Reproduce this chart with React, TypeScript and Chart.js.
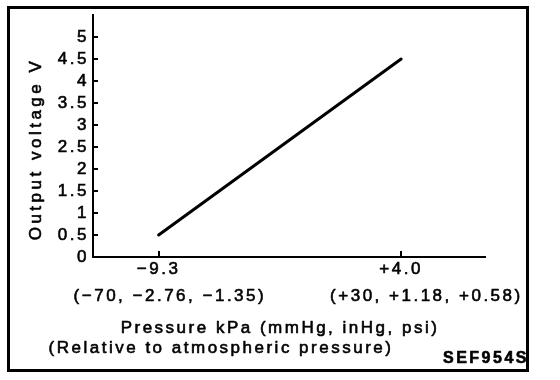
import React, { useEffect, useRef } from "react";
import { Chart, registerables } from "chart.js";

Chart.register(...registerables);

// ---- data ----
const pressureKpa = [-9.3, 4.0];
const outputVoltage = [0.5, 4.5];
const xTickValues = [-9.3, 4.0];
const xTickLabels = ["\u22129.3", "+4.0"];
const xSubLabels = ["(\u221270, \u22122.76, \u22121.35)", "(+30, +1.18, +0.58)"];
const xSubOffsets = [10, 24];
const yTickMax = 5;
const xTitleLines = ["Pressure kPa (mmHg, inHg, psi)", "(Relative to atmospheric pressure)"];
const yTitle = "Output voltage V";
const figureCode = "SEF954S";

const FONT = "'Liberation Sans', Arial, Helvetica, sans-serif";
const SPACING = "2.5px";
const STROKE = 0.6;

export default function App() {
  const ref = useRef<HTMLCanvasElement>(null);

  useEffect(() => {
    document.body.style.margin = "0";
    const canvas = ref.current;
    if (!canvas) return;

    const text = (ctx: CanvasRenderingContext2D, s: string, x: number, y: number) => {
      ctx.fillText(s, x, y);
      ctx.strokeText(s, x, y);
    };

    const deco = {
      id: "deco",
      beforeDraw(chart: any) {
        chart.ctx.letterSpacing = SPACING;
      },
      afterDraw(chart: any) {
        const ctx = chart.ctx as CanvasRenderingContext2D;
        const xs = chart.scales.x;
        const ys = chart.scales.y;
        ctx.save();
        (ctx as any).letterSpacing = SPACING;
        ctx.strokeStyle = "#000";
        ctx.fillStyle = "#000";

        // inward tick marks
        ctx.lineWidth = 2;
        ctx.beginPath();
        ys.ticks.forEach((t: any) => {
          if (t.value === 0) return;
          const y = Math.round(ys.getPixelForValue(t.value));
          ctx.moveTo(xs.left, y);
          ctx.lineTo(xs.left + 5, y);
        });
        xs.ticks.forEach((t: any) => {
          const x = Math.round(xs.getPixelForValue(t.value));
          ctx.moveTo(x, ys.bottom);
          ctx.lineTo(x, ys.bottom - 6);
        });
        ctx.stroke();

        // frame
        ctx.lineWidth = 3;
        ctx.strokeRect(8.5, 7.5, 519, 363);

        ctx.lineWidth = STROKE;
        ctx.lineJoin = "round";
        // second line of x tick labels
        ctx.font = `17px ${FONT}`;
        ctx.textAlign = "center";
        ctx.textBaseline = "alphabetic";
        xs.ticks.forEach((t: any, i: number) => {
          const x = xs.getPixelForValue(t.value) + xSubOffsets[i] + 1.25;
          text(ctx, xSubLabels[i], x, 301);
        });

        // x title lines
        text(ctx, xTitleLines[0], 280, 333);
        text(ctx, xTitleLines[1], 221, 353);

        // y title
        ctx.save();
        (ctx as any).letterSpacing = "3.5px";
        ctx.translate(36, 149);
        ctx.rotate(-Math.PI / 2);
        ctx.textBaseline = "middle";
        text(ctx, yTitle, 0, 0);
        ctx.restore();

        // figure code
        ctx.font = `bold 16px ${FONT}`;
        ctx.textAlign = "left";
        text(ctx, figureCode, 443, 363);

        ctx.restore();
      },
    };

    const tickFont = { family: FONT, size: 17 };

    const chart = new Chart(canvas, {
      type: "scatter",
      data: {
        datasets: [
          {
            data: pressureKpa.map((x, i) => ({ x, y: outputVoltage[i] })),
            showLine: true,
            borderColor: "#000",
            borderWidth: 3,
            pointRadius: 0,
            borderCapStyle: "round",
          },
        ],
      },
      options: {
        responsive: false,
        animation: false,
        devicePixelRatio: 1,
        layout: { padding: { top: 15, right: 75, bottom: 99, left: 0 } },
        font: { family: FONT, size: 17 },
        color: "#000",
        plugins: { legend: { display: false }, tooltip: { enabled: false }, title: { display: false } },
        scales: {
          x: {
            type: "linear",
            min: -12.9,
            max: 8.6,
            afterBuildTicks: (s: any) => {
              s.ticks = xTickValues.map((v) => ({ value: v }));
            },
            afterFit: (s: any) => {
              s.height = 24;
            },
            ticks: {
              callback: (_v: any, i: number) => xTickLabels[i],
              padding: 2,
              color: "#000",
              font: tickFont,
              maxRotation: 0,
              autoSkip: false,
              textStrokeColor: "#000",
              textStrokeWidth: STROKE,
            },
            grid: { display: true, drawOnChartArea: false, drawTicks: false },
            border: { display: true, color: "#000", width: 2 },
          },
          y: {
            type: "linear",
            min: 0,
            max: 5.5,
            afterBuildTicks: (s: any) => {
              s.ticks = s.ticks.filter((t: any) => t.value <= yTickMax + 1e-9);
            },
            afterFit: (s: any) => {
              s.width = 93;
            },
            ticks: {
              stepSize: 0.5,
              padding: 4,
              color: "#000",
              font: tickFont,
              textStrokeColor: "#000",
              textStrokeWidth: STROKE,
              callback: (v: any) => String(Math.round(Number(v) * 10) / 10),
            },
            grid: { display: true, drawOnChartArea: false, drawTicks: false },
            border: { display: true, color: "#000", width: 2 },
          },
        },
      },
      plugins: [deco],
    } as any);

    return () => chart.destroy();
  }, []);

  return (
    <div style={{ width: 560, height: 380, background: "#fff" }}>
      <canvas ref={ref} width={560} height={380} style={{ display: "block" }} />
    </div>
  );
}
